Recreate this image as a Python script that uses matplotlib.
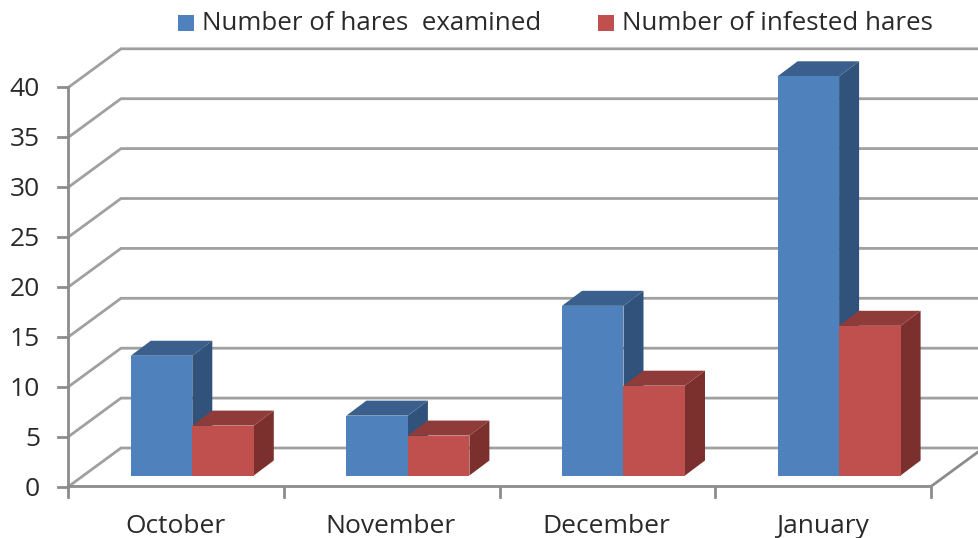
import matplotlib
matplotlib.use('Agg')
import matplotlib.pyplot as plt
from matplotlib.patches import Polygon, Rectangle

months = ['October', 'November', 'December', 'January']
examined = [12, 6, 17, 40]
infested = [5, 4, 9, 15]
y_ticks = [0, 5, 10, 15, 20, 25, 30, 35, 40]
legend_labels = ['Number of hares  examined', 'Number of infested hares']

plt.rcParams['font.family'] = ['Open Sans', 'DejaVu Sans']

W, H = 979, 538
# pixels per unit, the axes fill the whole figure
px_x = 215.6
px_y = 9.98
x0_px = 68.5
y0_px = 486.5

fig = plt.figure(figsize=(W / 100, H / 100), dpi=100)
ax = fig.add_axes([0, 0, 1, 1])
ax.set_xlim(-x0_px / px_x, (W - x0_px) / px_x)
ax.set_ylim((y0_px - H) / px_y, y0_px / px_y)
ax.axis('off')


def dx(p):
    return p / px_x


def dy(p):
    return p / px_y


grid_c = '#a0a0a0'
axis_c = '#8c8c8c'
text_c = '#2a2a2a'
wall_x = dx(52.5)
wall_y = dy(38.5)
right = ax.get_xlim()[1]

# back wall and side wall gridlines
for v in y_ticks:
    ax.plot([0, wall_x, right], [v, v + wall_y, v + wall_y], color=grid_c, lw=2, zorder=1,
            solid_joinstyle='miter')
    ax.plot([-dx(10), 0], [v, v], color=axis_c, lw=2, zorder=2)
    ax.text(-dx(28.5), v - dy(2.5), str(v), ha='right', va='center', fontsize=19, color=text_c)

# floor and axis lines
ax.plot([0, 0], [0, y_ticks[-1]], color=axis_c, lw=2, zorder=2)
ax.plot([0, 4, 4 + wall_x], [0, 0, wall_y], color=axis_c, lw=2, zorder=2)
for i in range(5):
    ax.plot([i, i], [0, -dy(10)], color=axis_c, lw=2, zorder=2)

for i, m in enumerate(months):
    ax.text(i + 0.5 - dx(1), -dy(40), m, ha='center', va='center', fontsize=19, color=text_c)

# bars
bar_w = dx(61.5)
shift_x = dx(16)
shift_y = dy(11)
depth_x = dx(20)
depth_y = dy(15)


def bar3d(left, val, front, top, side, z):
    b = shift_y
    t = shift_y + val
    r = left + bar_w
    ax.add_patch(Polygon([(r, b), (r + depth_x, b + depth_y), (r + depth_x, t + depth_y), (r, t)],
                         facecolor=side, edgecolor='none', zorder=z))
    ax.add_patch(Polygon([(left, t), (left + depth_x, t + depth_y), (r + depth_x, t + depth_y), (r, t)],
                         facecolor=top, edgecolor='none', zorder=z))
    ax.add_patch(Rectangle((left, b), bar_w, val, facecolor=front, edgecolor='none', zorder=z))


blue = ('#4f81bd', '#3a5f8c', '#31527a')
red = ('#c0504d', '#8f3b39', '#7b302e')
for i in range(len(months)):
    c = i + 0.5 + shift_x
    bar3d(c - bar_w, examined[i], blue[0], blue[1], blue[2], 3 + i)
    bar3d(c, infested[i], red[0], red[1], red[2], 3.5 + i)

# legend
legend_y = (y0_px - 24) / px_y
for lab, col, sq_px, txt_px in zip(legend_labels, [blue[0], red[0]], [178, 598], [202, 622]):
    ax.add_patch(Rectangle(((sq_px - x0_px) / px_x, (y0_px - 31) / px_y), dx(16), dy(16),
                           facecolor=col, edgecolor='none'))
    ax.text((txt_px - x0_px) / px_x, legend_y, lab, ha='left', va='center', fontsize=18.6, color=text_c)

fig.savefig('out.png', dpi=100)
